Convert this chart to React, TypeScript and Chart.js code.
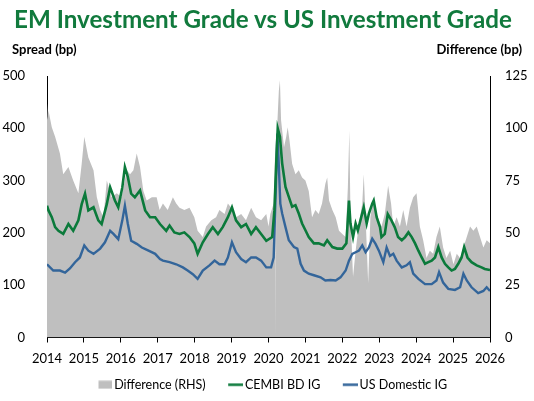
import React, { useEffect, useRef } from "react";
import { Chart, registerables } from "chart.js";
Chart.register(...registerables);

const FONT = "Lato, 'Open Sans', sans-serif";
const GRAY = "#BFBFBF";
const GREEN = "#0B7A3B";
const BLUE = "#33659A";

const diffYears = [
  2014.0, 2014.02, 2014.04, 2014.13, 2014.22, 2014.35, 2014.44, 2014.58, 2014.71, 2014.85, 2014.94,
  2015.01, 2015.12, 2015.26, 2015.35, 2015.44, 2015.53, 2015.62, 2015.75, 2015.89,
  2016.02, 2016.16, 2016.25, 2016.34, 2016.43, 2016.52, 2016.61, 2016.7, 2016.84, 2016.97,
  2017.05, 2017.14, 2017.27, 2017.41, 2017.5, 2017.59, 2017.72, 2017.86, 2017.99,
  2018.08, 2018.22, 2018.31, 2018.45, 2018.58, 2018.67, 2018.81, 2018.9, 2018.99,
  2019.12, 2019.26, 2019.39, 2019.53, 2019.66, 2019.8, 2019.94,
  2020.0, 2020.05, 2020.14, 2020.19, 2020.2, 2020.21, 2020.23, 2020.28, 2020.31, 2020.34, 2020.42,
  2020.48, 2020.52, 2020.57, 2020.64, 2020.73, 2020.82, 2020.91,
  2021.0, 2021.09, 2021.18, 2021.27, 2021.36, 2021.45, 2021.54, 2021.59, 2021.64, 2021.73, 2021.82, 2021.91,
  2022.0, 2022.09, 2022.15, 2022.19, 2022.22, 2022.29, 2022.36, 2022.45, 2022.54, 2022.58, 2022.63,
  2022.7, 2022.76, 2022.84, 2022.9, 2022.99,
  2023.06, 2023.15, 2023.24, 2023.32, 2023.38, 2023.47, 2023.56, 2023.65, 2023.74, 2023.83, 2023.92,
  2024.01, 2024.1, 2024.19, 2024.28, 2024.37, 2024.46, 2024.55, 2024.64, 2024.73, 2024.82, 2024.92,
  2025.01, 2025.1, 2025.19, 2025.28, 2025.37, 2025.46, 2025.55, 2025.64, 2025.73, 2025.82, 2025.91, 2026.0,
];
const diffValues = [
  112, 104, 108.5, 100.5, 96, 88, 78, 81.5, 75, 69, 83,
  96, 86, 80, 67, 61, 57.5, 75, 67, 69,
  67, 80, 78, 80, 88, 81.5, 70, 65.5, 67, 67,
  61, 64, 61, 67, 64, 62, 61, 62, 57.5,
  51, 48, 53, 56, 57.5, 61, 59, 64, 62,
  57.5, 59, 56, 62, 57.5, 56, 59,
  53, 59, 64, 96, 0, 97, 99, 118, 123, 104, 91,
  96, 100.5, 94, 83, 78, 80, 76.5,
  75, 70, 57.5, 61, 59, 64, 73.5, 76.5, 65.5, 61, 57.5, 51,
  49.5, 48, 72, 99, 59, 29, 41.5, 54.5, 64, 78, 57.5,
  26, 57.5, 67, 61, 56,
  53, 59, 72.5, 64, 53, 57.5, 53, 61, 53, 62, 67,
  69, 53, 46.5, 38, 41.5, 40, 48, 53, 43, 38, 41.5,
  35, 40, 38, 43, 48, 53, 51, 53, 48, 43, 46.5, 45,
];

const cembiYears = [
  2014.0, 2014.04, 2014.13, 2014.22, 2014.31, 2014.44, 2014.58, 2014.71, 2014.85, 2014.94,
  2015.03, 2015.12, 2015.26, 2015.39, 2015.48, 2015.62, 2015.71, 2015.84, 2015.93,
  2016.04, 2016.11, 2016.19, 2016.28, 2016.38, 2016.52, 2016.66, 2016.79, 2016.93,
  2017.06, 2017.23, 2017.32, 2017.45, 2017.59, 2017.72, 2017.86, 2017.99,
  2018.08, 2018.22, 2018.36, 2018.49, 2018.63, 2018.76, 2018.9,
  2019.01, 2019.12, 2019.26, 2019.39, 2019.53, 2019.66, 2019.8, 2019.94,
  2020.1, 2020.16, 2020.22, 2020.25, 2020.31, 2020.37, 2020.46, 2020.55, 2020.64, 2020.73, 2020.82, 2020.91,
  2021.0, 2021.09, 2021.23, 2021.36, 2021.5, 2021.59, 2021.73, 2021.86,
  2022.0, 2022.11, 2022.18, 2022.22, 2022.29, 2022.36, 2022.42, 2022.49, 2022.58, 2022.66, 2022.72,
  2022.81, 2022.85, 2022.93, 2023.02,
  2023.06, 2023.15, 2023.23, 2023.33, 2023.42, 2023.51, 2023.61, 2023.7, 2023.79, 2023.88, 2023.97,
  2024.06, 2024.15, 2024.24, 2024.33, 2024.42, 2024.51, 2024.6, 2024.69, 2024.78, 2024.87, 2024.96,
  2025.05, 2025.14, 2025.23, 2025.3, 2025.39, 2025.5, 2025.64, 2025.77, 2025.86, 2026.0,
];
const cembiValues = [
  252, 243, 230, 211, 204, 198, 217, 204, 224, 255,
  275, 243, 249, 224, 217, 255, 287, 262, 249,
  287, 326, 307, 275, 268, 281, 243, 230, 230,
  217, 204, 214, 201, 198, 201, 192, 180,
  160, 182, 198, 211, 198, 211, 230,
  249, 224, 211, 217, 198, 211, 198, 185,
  192, 243, 352, 400, 384, 333, 288, 269, 250, 253, 237, 218,
  205, 192, 180, 180, 176, 186, 173, 170,
  170, 180, 262, 218, 192, 218, 205, 224, 249, 218, 237,
  256, 262, 230, 211,
  192, 198, 236, 224, 211, 192, 186, 192, 201, 192, 180,
  166, 153, 141, 144, 147, 153, 173, 153, 141, 134, 128,
  131, 141, 153, 173, 153, 144, 138, 134, 131, 129,
];

const usYears = [
  2014.0, 2014.17, 2014.35, 2014.49, 2014.62, 2014.76, 2014.89,
  2015.01, 2015.12, 2015.26, 2015.44, 2015.57, 2015.71, 2015.8, 2015.93,
  2016.04, 2016.11, 2016.19, 2016.28, 2016.43, 2016.57, 2016.75, 2016.93,
  2017.06, 2017.14, 2017.32, 2017.5, 2017.68, 2017.81, 2017.95,
  2018.08, 2018.22, 2018.4, 2018.54, 2018.67, 2018.81, 2018.9,
  2019.01, 2019.12, 2019.26, 2019.39, 2019.53, 2019.66, 2019.8, 2019.94,
  2020.07, 2020.14, 2020.2, 2020.24, 2020.27, 2020.32, 2020.37, 2020.46, 2020.55, 2020.69, 2020.78, 2020.87, 2020.96,
  2021.09, 2021.23, 2021.41, 2021.54, 2021.68, 2021.82, 2021.95,
  2022.09, 2022.18, 2022.27, 2022.36, 2022.45, 2022.54, 2022.63, 2022.72, 2022.81, 2022.9, 2022.99,
  2023.11, 2023.2, 2023.29, 2023.38, 2023.47, 2023.61, 2023.74, 2023.83, 2023.92,
  2024.06, 2024.24, 2024.42, 2024.55, 2024.62, 2024.73, 2024.87,
  2025.05, 2025.19, 2025.28, 2025.37, 2025.5, 2025.68, 2025.82, 2025.91, 2026.0,
];
const usValues = [
  140, 128, 128, 124, 132, 144, 153,
  176, 166, 160, 170, 182, 204, 198, 188,
  224, 252, 217, 185, 179, 172, 166, 160,
  150, 147, 144, 140, 134, 128, 121,
  112, 128, 138, 147, 140, 140, 153,
  182, 163, 150, 144, 153, 153, 147, 134,
  134, 153, 288, 390, 345, 256, 237, 211, 186, 173, 170, 141, 128,
  122, 119, 115, 109, 110, 109, 115,
  128, 147, 160, 163, 166, 176, 163, 172, 189, 179, 166,
  144, 172, 156, 160, 147, 134, 138, 144, 122,
  112, 102, 102, 109, 125, 105, 93,
  91, 96, 122, 109, 96, 85, 89, 96, 89,
];

const leftTicks = [0, 100, 200, 300, 400, 500];
const rightTicks = [0, 25, 50, 75, 100, 125];
const yearTicks = [2014, 2015, 2016, 2017, 2018, 2019, 2020, 2021, 2022, 2023, 2024, 2025, 2026];

const toPoints = (xs: number[], ys: number[]) => xs.map((x, i) => ({ x, y: ys[i] }));

// legend swatch: canvas wider than the legend box so the mark sits right next to its text
function makeSwatch(w: number, h: number, color: string) {
  const c = document.createElement("canvas");
  c.width = 30;
  c.height = 9;
  const g = c.getContext("2d")!;
  g.fillStyle = color;
  g.fillRect(30 - w, (9 - h) / 2, w, h);
  return c;
}

export default function App() {
  const ref = useRef<HTMLCanvasElement>(null);
  useEffect(() => {
    document.body.style.margin = "0";
    const swatches = [makeSwatch(14, 8, GRAY), makeSwatch(15, 2.5, GREEN), makeSwatch(15, 2.5, BLUE)];
    const tickFont = { family: FONT, size: 13 };
    const chart = new Chart(ref.current!, {
      type: "line",
      data: {
        datasets: [
          {
            label: "Difference (RHS)",
            data: toPoints(diffYears, diffValues),
            yAxisID: "y1",
            borderWidth: 0,
            borderColor: GRAY,
            backgroundColor: GRAY,
            fill: "origin",
            pointRadius: 0,
          },
          {
            label: "CEMBI BD IG",
            data: toPoints(cembiYears, cembiValues),
            yAxisID: "y",
            borderColor: GREEN,
            borderWidth: 2.6,
            pointRadius: 0,
            fill: false,
          },
          {
            label: "US Domestic IG",
            data: toPoints(usYears, usValues),
            yAxisID: "y",
            borderColor: BLUE,
            borderWidth: 2.4,
            pointRadius: 0,
            fill: false,
          },
        ],
      },
      options: {
        animation: false,
        responsive: false,
        devicePixelRatio: 1,
        layout: { padding: { top: 76, bottom: 0, left: 0, right: 0 } },
        plugins: {
          filler: { drawTime: "beforeDatasetsDraw" },
          tooltip: { enabled: false },
          legend: {
            position: "bottom",
            labels: {
              usePointStyle: true,
              pointStyleWidth: 21,
              font: { family: FONT, size: 12.5 },
              color: "#000",
              padding: 12,
              generateLabels: (c: any) =>
                c.data.datasets.map((ds: any, i: number) => ({
                  text: ds.label,
                  pointStyle: swatches[i],
                  fillStyle: ds.borderColor,
                  strokeStyle: ds.borderColor,
                  lineWidth: 0,
                  hidden: false,
                  datasetIndex: i,
                  fontColor: "#000",
                })),
            },
          },
        },
        scales: {
          x: {
            type: "linear",
            min: 2014,
            max: 2026,
            afterBuildTicks: (s: any) => {
              s.ticks = yearTicks.map((v) => ({ value: v }));
            },
            afterFit: (s: any) => {
              s.height = 29;
            },
            ticks: {
              callback: (v: any) => String(v),
              font: tickFont,
              color: "#000",
              padding: 9,
              maxRotation: 0,
              autoSkip: false,
            },
            grid: { display: true, drawOnChartArea: false, drawTicks: true, tickLength: 5, color: "#000" },
            border: { display: true, color: "#000", width: 1 },
          },
          y: {
            position: "left",
            min: 0,
            max: 500,
            afterBuildTicks: (s: any) => {
              s.ticks = leftTicks.map((v) => ({ value: v }));
            },
            afterFit: (s: any) => {
              s.width = 47;
            },
            ticks: { font: tickFont, color: "#000", padding: 14 },
            grid: { display: false },
            border: { display: true, color: "#000", width: 1 },
          },
          y1: {
            position: "right",
            min: 0,
            max: 125,
            afterBuildTicks: (s: any) => {
              s.ticks = rightTicks.map((v) => ({ value: v }));
            },
            afterFit: (s: any) => {
              s.width = 44;
            },
            ticks: { font: tickFont, color: "#000", padding: 7 },
            grid: { display: false },
            border: { display: true, color: "#000", width: 1 },
          },
        },
      } as any,
    });
    return () => chart.destroy();
  }, []);

  return (
    <div style={{ position: "relative", width: 534, height: 401, background: "#fff", fontFamily: FONT }}>
      <canvas ref={ref} width={534} height={401} style={{ position: "absolute", left: 0, top: 0 }} />
      <div
        style={{
          position: "absolute",
          left: -4,
          top: 4,
          width: 534,
          textAlign: "center",
          fontSize: 24.2,
          fontWeight: 700,
          color: "#117A3D",
          whiteSpace: "nowrap",
        }}
      >
        EM Investment Grade vs US Investment Grade
      </div>
      <div style={{ position: "absolute", left: 12, top: 41, fontSize: 13, fontWeight: 700, color: "#000" }}>
        Spread (bp)
      </div>
      <div style={{ position: "absolute", right: 12, top: 41, fontSize: 13, fontWeight: 700, color: "#000" }}>
        Difference (bp)
      </div>
    </div>
  );
}
